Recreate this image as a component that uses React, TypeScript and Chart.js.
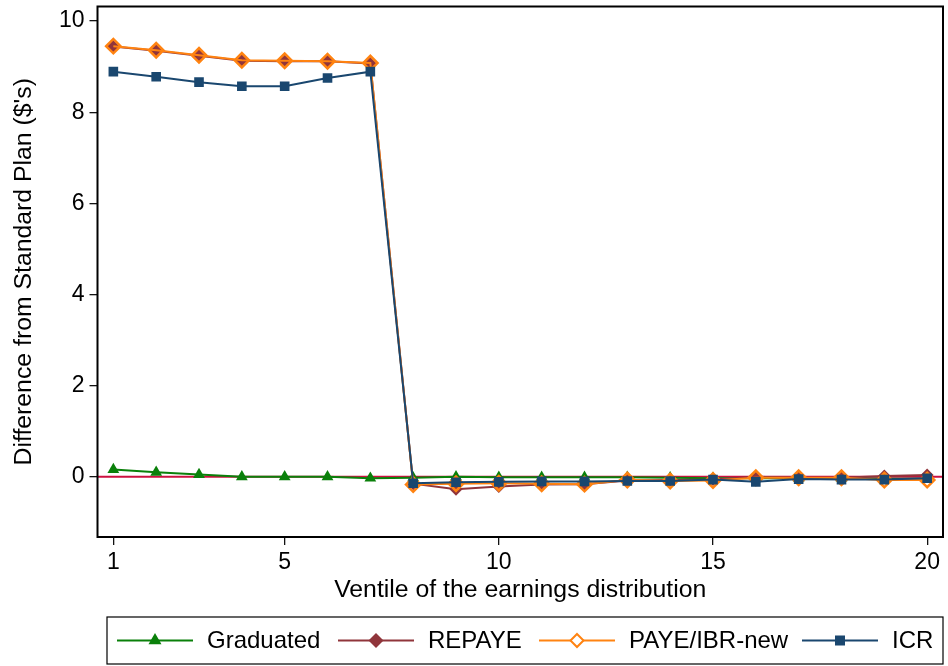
import React, { useEffect, useRef } from "react";
import { Chart, registerables } from "chart.js";

Chart.register(...registerables);

// ---- data ----
const ventiles = [1, 2, 3, 4, 5, 6, 7, 8, 9, 10, 11, 12, 13, 14, 15, 16, 17, 18, 19, 20];
const graduated = [0.16, 0.1, 0.05, 0.0, 0.0, 0.0, -0.03, -0.02, 0.0, -0.01, -0.01, -0.01, -0.01, -0.02, -0.03, -0.03, -0.03, -0.03, -0.04, -0.04];
const repaye = [9.44, 9.35, 9.24, 9.13, 9.12, 9.12, 9.07, -0.15, -0.27, -0.21, -0.17, -0.16, -0.08, -0.07, -0.06, 0.0, -0.02, -0.02, 0.02, 0.04];
const payeIbrNew = [9.45, 9.36, 9.25, 9.14, 9.13, 9.12, 9.08, -0.17, -0.15, -0.14, -0.15, -0.16, -0.07, -0.09, -0.08, -0.02, -0.02, -0.02, -0.07, -0.07];
const icr = [8.89, 8.78, 8.66, 8.57, 8.57, 8.75, 8.89, -0.14, -0.12, -0.11, -0.1, -0.1, -0.09, -0.09, -0.06, -0.11, -0.05, -0.06, -0.06, -0.03];
const seriesNames = ["Graduated", "REPAYE", "PAYE/IBR-new", "ICR"];
const xTicks = [1, 5, 10, 15, 20];
const yTicks = [0, 2, 4, 6, 8, 10];
const xRange = [0.63, 20.37];
const yRange = [-1.32, 10.32];
const xTitle = "Ventile of the earnings distribution";
const yTitle = "Difference from Standard Plan ($'s)";

// ---- styles ----
const FONT = "'Liberation Sans', Arial, Helvetica, sans-serif";
const GREEN = "#0a800a";
const MAROON = "#90353b";
const ORANGE = "#ff8311";
const NAVY = "#1a476f";
const ZERO = "#cc1040";

type Marker = "triangle" | "diamond" | "hollowDiamond" | "square";
const styles: { color: string; marker: Marker }[] = [
  { color: GREEN, marker: "triangle" },
  { color: MAROON, marker: "diamond" },
  { color: ORANGE, marker: "hollowDiamond" },
  { color: NAVY, marker: "square" },
];

function drawMarker(ctx: CanvasRenderingContext2D, m: Marker, color: string, x: number, y: number) {
  ctx.save();
  ctx.fillStyle = color;
  ctx.strokeStyle = color;
  ctx.beginPath();
  if (m === "triangle") {
    const r = 7.5;
    ctx.moveTo(x, y - r);
    ctx.lineTo(x + r * 0.866, y + r / 2);
    ctx.lineTo(x - r * 0.866, y + r / 2);
    ctx.closePath();
    ctx.fill();
  } else if (m === "diamond" || m === "hollowDiamond") {
    const r = m === "diamond" ? 7.5 : 6.5;
    ctx.moveTo(x, y - r);
    ctx.lineTo(x + r, y);
    ctx.lineTo(x, y + r);
    ctx.lineTo(x - r, y);
    ctx.closePath();
    if (m === "diamond") ctx.fill();
    else {
      ctx.fillStyle = "#fff";
      ctx.fill();
      ctx.lineWidth = 2;
      ctx.stroke();
    }
  } else {
    const s = 10;
    ctx.fillRect(x - s / 2, y - s / 2, s, s);
  }
  ctx.restore();
}

const framePlugin = {
  id: "stataFrame",
  beforeDatasetsDraw(chart: any) {
    const { ctx, chartArea: a, scales } = chart;
    const y0 = scales.y.getPixelForValue(0);
    ctx.save();
    ctx.strokeStyle = ZERO;
    ctx.lineWidth = 2;
    ctx.beginPath();
    ctx.moveTo(a.left, y0);
    ctx.lineTo(a.right, y0);
    ctx.stroke();
    ctx.restore();
  },
  afterDraw(chart: any) {
    const { ctx, chartArea: a, height } = chart;
    ctx.save();
    ctx.strokeStyle = "#000";
    ctx.lineWidth = 2;
    ctx.strokeRect(a.left, a.top, a.right - a.left, a.bottom - a.top);

    // legend box
    const bx = a.left + 9.5;
    const by = height - 49;
    const bw = a.right - bx;
    const bh = 47;
    ctx.lineWidth = 1.2;
    ctx.strokeRect(bx, by, bw, bh);
    const cy = by + bh / 2;
    const cols = [10, 231, 432, 695];
    const lineLen = 76;
    ctx.font = `24px ${FONT}`;
    ctx.textBaseline = "middle";
    ctx.textAlign = "left";
    seriesNames.forEach((name, i) => {
      const st = styles[i];
      const x0 = bx + cols[i];
      ctx.strokeStyle = st.color;
      ctx.lineWidth = 2;
      ctx.beginPath();
      ctx.moveTo(x0, cy);
      ctx.lineTo(x0 + lineLen, cy);
      ctx.stroke();
      drawMarker(ctx, st.marker, st.color, x0 + lineLen / 2, cy);
      ctx.fillStyle = "#000";
      ctx.fillText(name, x0 + lineLen + 14, cy + 1);
    });
    ctx.restore();
  },
};

export default function App() {
  const ref = useRef<HTMLCanvasElement | null>(null);

  useEffect(() => {
    if (!ref.current) return;
    const mk = (vals: number[]) => ventiles.map((v, i) => ({ x: v, y: vals[i] }));
    const series = [graduated, repaye, payeIbrNew, icr];
    const pointStyles = ["triangle", "rectRot", "rectRot", "rect"];
    const radii = [6.8, 6.5, 7.2, 6.8];
    const orders = [3, 2, 1, 0];

    const datasets = series.map((vals, i) => {
      const c = styles[i].color;
      const hollow = styles[i].marker === "hollowDiamond";
      return {
        label: seriesNames[i],
        data: mk(vals),
        borderColor: c,
        backgroundColor: c,
        borderWidth: 2,
        pointStyle: pointStyles[i],
        pointRadius: radii[i],
        pointBackgroundColor: hollow ? "rgba(0,0,0,0)" : c,
        pointBorderColor: c,
        pointBorderWidth: hollow ? 2.5 : 0,
        tension: 0,
        order: orders[i],
      };
    });

    const tickFont = { family: FONT, size: 23 };
    const titleFont = { family: FONT, size: 24.8 };

    const chart = new Chart(ref.current, {
      type: "line",
      data: { datasets } as any,
      plugins: [framePlugin],
      options: {
        animation: false,
        responsive: false,
        devicePixelRatio: 1,
        layout: { autoPadding: false, padding: { left: 0, right: 5, top: 6.5, bottom: 61 } },
        plugins: { legend: { display: false }, tooltip: { enabled: false } },
        scales: {
          x: {
            type: "linear",
            min: xRange[0],
            max: xRange[1],
            afterBuildTicks: (s: any) => {
              s.ticks = xTicks.map((v) => ({ value: v }));
            },
            afterFit: (s: any) => {
              s.height = 68;
              s.paddingLeft = 0;
              s.paddingRight = 0;
            },
            grid: { display: true, drawOnChartArea: false, drawTicks: true, tickLength: 8, color: "#111", lineWidth: 1.3 },
            border: { display: false },
            ticks: { color: "#000", font: tickFont, padding: 4, maxRotation: 0, autoSkip: false },
            title: { display: true, text: xTitle, color: "#000", font: titleFont, padding: { top: 0, bottom: 0 } },
          },
          y: {
            type: "linear",
            min: yRange[0],
            max: yRange[1],
            afterBuildTicks: (s: any) => {
              s.ticks = yTicks.map((v) => ({ value: v }));
            },
            afterFit: (s: any) => {
              s.width = 97.5;
              s.paddingTop = 0;
              s.paddingBottom = 0;
            },
            grid: { display: true, drawOnChartArea: false, drawTicks: true, tickLength: 8, color: "#111", lineWidth: 1.3 },
            border: { display: false },
            ticks: { color: "#000", font: tickFont, padding: 5, autoSkip: false },
            title: { display: true, text: yTitle, color: "#000", font: titleFont, padding: { top: 9, bottom: 0 } },
          },
        },
      } as any,
    });
    return () => chart.destroy();
  }, []);

  return (
    <div style={{ position: "absolute", left: 0, top: 0, width: 948, height: 666, background: "#fff" }}>
      <canvas ref={ref} width={948} height={666} style={{ display: "block" }} />
    </div>
  );
}
